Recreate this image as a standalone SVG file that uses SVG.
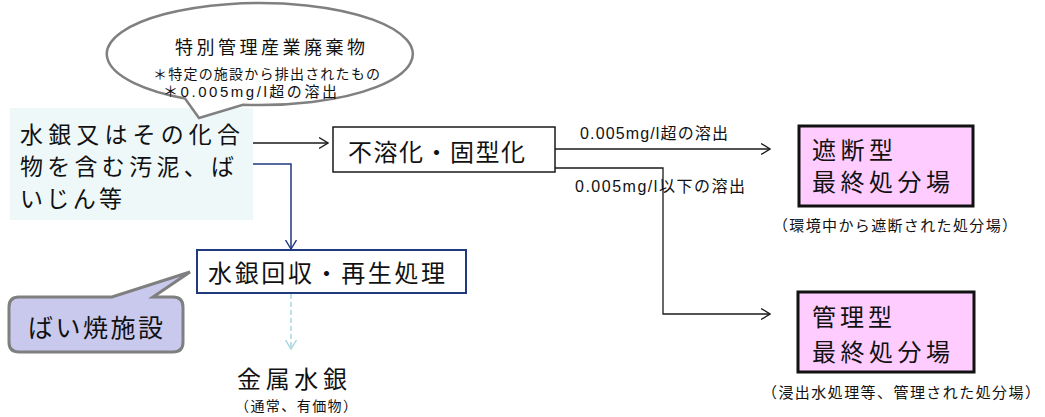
<svg xmlns="http://www.w3.org/2000/svg" width="1045" height="417" viewBox="0 0 1045 417">
<style>
  text { font-family: "Noto Sans CJK JP", "Liberation Sans", sans-serif; fill: #111; }
  .mix { font-family: "Liberation Sans", "Noto Sans CJK JP", sans-serif; }
  .big { font-size: 24px; }
  .src { font-size: 23px; }
  .lbl { font-size: 16px; }
  .note { font-size: 15px; }
  .small { font-size: 14px; }
  .conn { fill: none; stroke: #1a1a1a; stroke-width: 1.3; }
</style>
<defs>
  <marker id="arBlack" viewBox="0 0 10 12" refX="9.5" refY="6" markerWidth="10" markerHeight="12" markerUnits="userSpaceOnUse" orient="auto">
    <path d="M0.5,0.5 L9.5,6 L0.5,11.5" fill="none" stroke="#1a1a1a" stroke-width="1.3"/>
  </marker>
  <marker id="arNavy" viewBox="0 0 10 12" refX="9.5" refY="6" markerWidth="10" markerHeight="12" markerUnits="userSpaceOnUse" orient="auto">
    <path d="M0.5,0.5 L9.5,6 L0.5,11.5" fill="none" stroke="#1f3a7e" stroke-width="1.4"/>
  </marker>
  <marker id="arLight" viewBox="0 0 10 12" refX="9.5" refY="6" markerWidth="10" markerHeight="12" markerUnits="userSpaceOnUse" orient="auto">
    <path d="M0.5,0.5 L9.5,6 L0.5,11.5" fill="none" stroke="#a6d6df" stroke-width="1.4"/>
  </marker>
</defs>
<rect width="1045" height="417" fill="#ffffff"/>

<g id="source">
  <rect x="10" y="108" width="243" height="112" fill="#eff8f8"/>
  <text class="src" x="20" y="143" textLength="220" lengthAdjust="spacing">水銀又はその化合</text>
  <text class="src" x="20" y="175" textLength="214" lengthAdjust="spacing">物を含む汚泥、ば</text>
  <text class="src" x="20" y="207" textLength="102" lengthAdjust="spacing">いじん等</text>
</g>

<g id="callout-special">
  <path d="M185,98.5 L199,118 L243,104.7 A153 51 0 1 0 185,98.5 Z" fill="#ffffff" stroke="#808080" stroke-width="2.5"/>
  <text x="175" y="54" style="font-size:18px" textLength="190" lengthAdjust="spacing">特別管理産業廃棄物</text>
  <text class="small" x="153" y="79" textLength="227" lengthAdjust="spacing">＊特定の施設から排出されたもの</text>
  <text class="small mix" x="163" y="97" style="font-size:15px" textLength="174" lengthAdjust="spacing">＊0.005mg/l超の溶出</text>
</g>

<g id="connectors">
  <path class="conn" d="M253,143 H328" marker-end="url(#arBlack)"/>
  <path d="M253,164 H291 V249" fill="none" stroke="#1f3a7e" stroke-width="1.5" marker-end="url(#arNavy)"/>
  <path d="M291,294 V349" fill="none" stroke="#a6d6df" stroke-width="1.5" stroke-dasharray="5,3" marker-end="url(#arLight)"/>
  <path class="conn" d="M555,149 H770" marker-end="url(#arBlack)"/>
  <path class="conn" d="M555,168 H663 V314 H770" marker-end="url(#arBlack)"/>
  <text class="lbl mix" x="580" y="139" textLength="148" lengthAdjust="spacing">0.005mg/l超の溶出</text>
  <text class="lbl mix" x="575" y="192" textLength="170" lengthAdjust="spacing">0.005mg/l以下の溶出</text>
</g>

<g id="insolubilize">
  <rect x="333" y="127" width="222" height="45" fill="#ffffff" stroke="#1a1a1a" stroke-width="1.5"/>
  <text class="big" x="348" y="161" textLength="177" lengthAdjust="spacing">不溶化・固型化</text>
</g>

<g id="recovery">
  <rect x="197" y="250" width="269" height="43" fill="#ffffff" stroke="#1f3a7e" stroke-width="2"/>
  <text class="big" x="208" y="282" textLength="237" lengthAdjust="spacing">水銀回収・再生処理</text>
</g>

<g id="roasting">
  <path d="M19,297 H112 L190,272 L153,297 H173 Q183,297 183,307 V342 Q183,352 173,352 H19 Q9,352 9,342 V307 Q9,297 19,297 Z" fill="#c9c9ee" stroke="#7f7f7f" stroke-width="3"/>
  <text class="big" x="28" y="337" style="font-size:25px" textLength="135" lengthAdjust="spacing">ばい焼施設</text>
</g>

<g id="metal-mercury">
  <text class="big" x="237" y="388" textLength="110" lengthAdjust="spacing">金属水銀</text>
  <text class="small" x="235" y="411" textLength="122" lengthAdjust="spacing">（通常、有価物）</text>
</g>

<g id="isolated">
  <rect x="799" y="126" width="174" height="80" fill="#ffccff" stroke="#111" stroke-width="3"/>
  <text class="big" x="812" y="159" textLength="81" lengthAdjust="spacing">遮断型</text>
  <text class="big" x="812" y="191" textLength="138" lengthAdjust="spacing">最終処分場</text>
  <text class="note" x="773" y="231" textLength="244" lengthAdjust="spacing">（環境中から遮断された処分場）</text>
</g>

<g id="managed">
  <rect x="798" y="292" width="176" height="80" fill="#ffccff" stroke="#111" stroke-width="3"/>
  <text class="big" x="812" y="326" textLength="80" lengthAdjust="spacing">管理型</text>
  <text class="big" x="812" y="361" textLength="138" lengthAdjust="spacing">最終処分場</text>
  <text class="note" x="762" y="398" textLength="278" lengthAdjust="spacing">（浸出水処理等、管理された処分場）</text>
</g>
</svg>
